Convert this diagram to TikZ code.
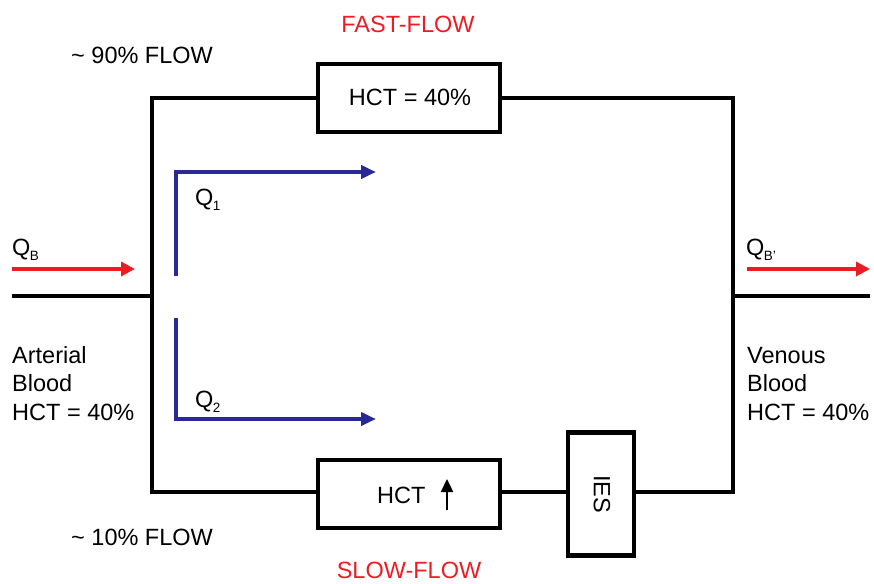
\documentclass[tikz,border=0pt]{standalone}
\usepackage{fontspec}
\setmainfont{Liberation Sans}
\usetikzlibrary{arrows.meta}
\definecolor{flowred}{RGB}{237,28,36}
\definecolor{flowblue}{RGB}{40,40,150}
\newcommand{\subtxt}[1]{\kern-0.5pt\raisebox{-5pt}{\fontsize{13.5}{13.5}\selectfont #1}}
\begin{document}
\begin{tikzpicture}[x=1pt,y=-1pt,
  pipe/.style={line width=4.5pt,black,line join=miter},
  box/.style={draw,line width=4.5pt,fill=white,inner sep=0pt},
  lbl/.style={font=\fontsize{23.5}{28.5}\selectfont,inner sep=0pt},
  redlbl/.style={lbl,text=flowred},
  redarrow/.style={flowred,line width=4pt,-{Triangle[length=14pt,width=14pt]}},
  bluearrow/.style={flowblue,line width=3.8pt,line join=miter,-{Triangle[length=15pt,width=13pt]}},
  uparrow/.style={black,line width=2.4pt,-{Triangle[length=13pt,width=12pt]}}]
\useasboundingbox (0,0) rectangle (874,583);
% junctions
\coordinate (in) at (12,296);
\coordinate (jl) at (152,296);
\coordinate (tl) at (152,98);
\coordinate (bl) at (152,492);
\coordinate (tr) at (733,98);
\coordinate (br) at (733,492);
\coordinate (jr) at (733,296);
\coordinate (out) at (870,296);
% boxes
\node[box,minimum width=182pt,minimum height=68pt] (fast) at (409,98) {};
\node[lbl,anchor=base] (fasttxt) at (410,106) {HCT = 40\%};
\node[box,minimum width=182pt,minimum height=68pt] (slow) at (409,494) {};
\node[lbl,anchor=base west] (slowtxt) at (377,503) {HCT};
\node[box,minimum width=66pt,minimum height=123pt] (ies) at (601,494) {};
\node[lbl,rotate=-90] (iestxt) at (602,494) {IES};
\coordinate (upA) at (447,510);
\coordinate (upB) at (447,479);
\draw[uparrow] (upA) -- (upB);
% pipes
\draw[pipe] (in) -- (jl);
\draw[pipe] (jr) -- (out);
\draw[pipe] (fast.west) -- (tl) -- (bl) -- (slow.west |- bl);
\draw[pipe] (fast.east) -- (tr) -- (br) -- (ies.east |- br);
\draw[pipe] (slow.east |- bl) -- (ies.west |- bl);
% flow arrows
\coordinate (qbA) at (12,269);
\coordinate (qbB) at (135,269);
\coordinate (qoA) at (747,269);
\coordinate (qoB) at (870,269);
\draw[redarrow] (qbA) -- (qbB);
\draw[redarrow] (qoA) -- (qoB);
\coordinate (q1s) at (176,276);
\coordinate (q1e) at (376,172);
\coordinate (q2s) at (176,318);
\coordinate (q2e) at (376,419);
\draw[bluearrow] (q1s) |- (q1e);
\draw[bluearrow] (q2s) |- (q2e);
% labels
\node[lbl,anchor=base west] (qb) at (12,255) {Q\subtxt{B}};
\node[lbl,anchor=base west] (qbo) at (746,255) {Q\subtxt{B'}};
\node[lbl,anchor=base west] (q1) at (195,205) {Q\subtxt{1}};
\node[lbl,anchor=base west] (q2) at (195,407) {Q\subtxt{2}};
\node[redlbl,anchor=base] (fastlbl) at (408,33) {FAST-FLOW};
\node[redlbl,anchor=base] (slowlbl) at (409,578) {SLOW-FLOW};
\node[lbl,anchor=base west] (p90) at (71,64) {\textasciitilde\ 90\% FLOW};
\node[lbl,anchor=base west] (p10) at (71,545) {\textasciitilde\ 10\% FLOW};
\node[lbl,anchor=base west,align=left] (art) at (12,420) {Arterial\\Blood\\HCT = 40\%};
\node[lbl,anchor=base west,align=left] (ven) at (747,420) {Venous\\Blood\\HCT = 40\%};
\end{tikzpicture}
\end{document}
